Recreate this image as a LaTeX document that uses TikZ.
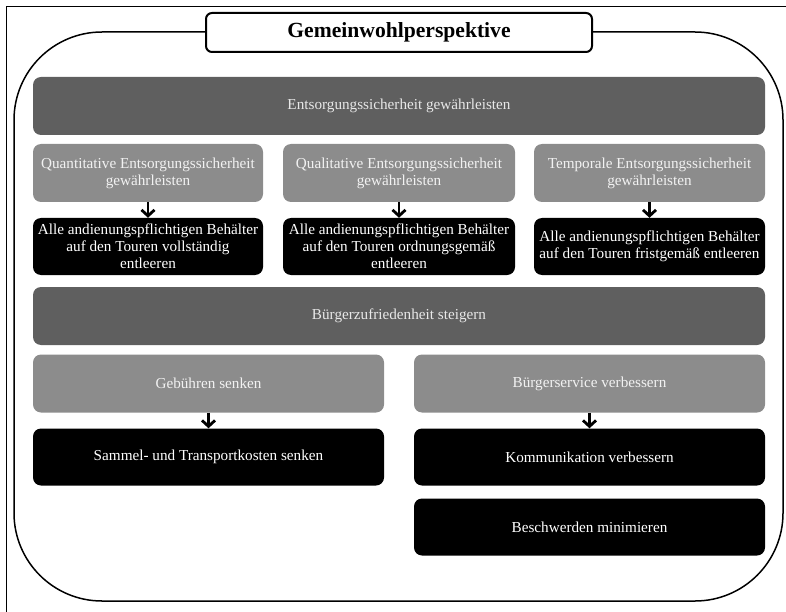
\documentclass[tikz,border=0pt]{standalone}
\usepackage{fontspec}
\setmainfont{Liberation Serif}
\usetikzlibrary{arrows.meta}
\definecolor{barGray}{RGB}{95,95,95}
\definecolor{goalGray}{RGB}{140,140,140}
\definecolor{paleText}{RGB}{232,232,232}
\tikzset{
    base/.style={
        rectangle,
        rounded corners=8pt,
        align=center,
        inner sep=2pt,
        font=\fontsize{15.2}{16.8}\selectfont
    },
    bar/.style={
        base,
        fill=barGray,
        text=paleText,
        minimum width=732pt,
        minimum height=58pt
    },
    goal/.style={
        base,
        fill=goalGray,
        text=white!95!black,
        minimum height=58pt
    },
    task/.style={
        base,
        fill=black,
        text=white,
        minimum height=57pt
    },
    arrow/.style={
        -{Straight Barb[length=6pt,width=13pt]},
        line width=2.8pt,
        draw=black
    }
}

\begin{document}
\begin{tikzpicture}[x=1pt,y=-1pt]
            \useasboundingbox (0,0) rectangle (786,612);

            % Frame and outline
            \draw[line width=0.9pt] (6,620) -- (6,6) -- (800,6);
            \draw[line width=1.5pt, rounded corners=88pt] (14,32) rectangle (783,601);
            \node[draw, line width=2pt, rounded corners=6pt, fill=white,
                minimum width=386pt, minimum height=39pt,
                font=\fontsize{21.6}{24}\selectfont\bfseries] (title) at (399,32.5)
                {Gemeinwohlperspektive};

            % Entsorgungssicherheit
            \node[bar] (safety) at (399,106) {Entsorgungssicherheit gewährleisten};

            \node[goal, minimum width=230pt] (quant) at (148,173)
                {Quantitative Entsorgungssicherheit\\gewährleisten};
            \node[goal, minimum width=232pt] (qual) at (399,173)
                {Qualitative Entsorgungssicherheit\\gewährleisten};
            \node[goal, minimum width=231pt] (temp) at (649.5,173)
                {Temporale Entsorgungssicherheit\\gewährleisten};

            \node[task, minimum width=230pt] (quantAct) at (148,246.5)
                {Alle andienungspflichtigen Behälter\\auf den Touren vollständig\\entleeren};
            \node[task, minimum width=232pt] (qualAct) at (399,246.5)
                {Alle andienungspflichtigen Behälter\\auf den Touren ordnungsgemäß\\entleeren};
            \node[task, minimum width=231pt] (tempAct) at (649.5,246.5)
                {Alle andienungspflichtigen Behälter\\auf den Touren fristgemäß entleeren};

            \draw[arrow] (quant) -- (quantAct);
            \draw[arrow] (qual) -- (qualAct);
            \draw[arrow] (temp) -- (tempAct);

            % Bürgerzufriedenheit
            \node[bar] (satisfaction) at (399,316) {Bürgerzufriedenheit steigern};

            \node[goal, minimum width=351pt] (fees) at (208.5,383.5) {Gebühren senken};
            \node[goal, minimum width=351pt] (service) at (589.5,383.5) {Bürgerservice verbessern};

            \node[task, minimum width=351pt] (costs) at (208.5,457) {Sammel- und Transportkosten senken};
            \node[task, minimum width=351pt] (comm) at (589.5,457) {Kommunikation verbessern};
            \node[task, minimum width=351pt] (complaints) at (589.5,527) {Beschwerden minimieren};

            \draw[arrow] (fees) -- (costs);
            \draw[arrow] (service) -- (comm);
\end{tikzpicture}
\end{document}
